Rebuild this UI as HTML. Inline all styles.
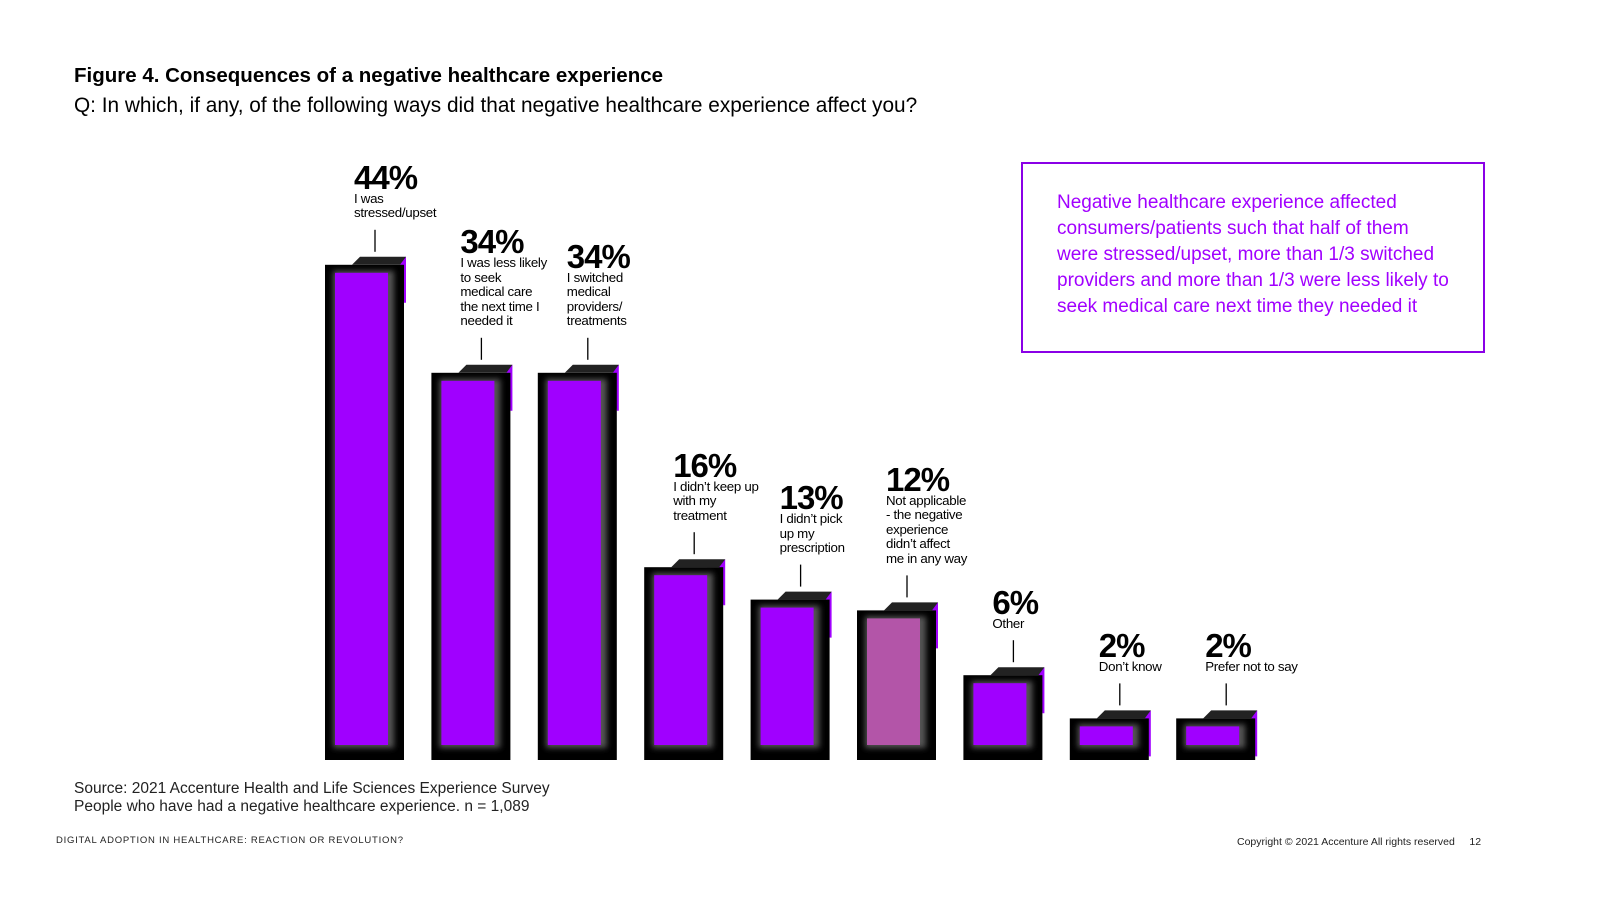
<!DOCTYPE html>
<html><head><meta charset="utf-8">
<style>
body{margin:0;width:1600px;height:900px;background:#fff;font-family:"Liberation Sans",sans-serif;position:relative;overflow:hidden;color:#000}
.abs{position:absolute}
#title{left:74px;top:64px;font-size:20.5px;font-weight:bold}
#sub{left:74px;top:94px;font-size:20.8px}
#box{left:1021px;top:162px;width:460px;height:187px;border:2px solid #8a00e6}
#box div{position:absolute;left:34px;top:26px;width:395px;font-size:19px;line-height:26px;color:#a100ff}
.lbl{position:absolute;font-size:13.3px;line-height:14.5px;letter-spacing:-0.3px}
.lbl b{display:block;font-size:33px;line-height:29px;letter-spacing:-1px}
#src{left:74px;top:780px;font-size:15.5px;line-height:18px;color:#222}
#foot1{left:56px;top:835px;font-size:9.5px;letter-spacing:0.75px;color:#222}
#foot2{left:1237px;top:836px;font-size:10.5px;color:#222}
</style></head><body>
<div id="title" class="abs">Figure 4. Consequences of a negative healthcare experience</div>
<div id="sub" class="abs">Q: In which, if any, of the following ways did that negative healthcare experience affect you?</div>
<div id="box" class="abs"><div>Negative healthcare experience affected consumers/patients such that half of them were stressed/upset, more than 1/3 switched providers and more than 1/3 were less likely to seek medical care next time they needed it</div></div>
<svg id="chart" class="abs" style="left:0;top:0" width="1600" height="900">
<defs><filter id="bl" x="-20%" y="-20%" width="140%" height="140%"><feGaussianBlur stdDeviation="3"/></filter></defs>
</svg>
<div id="labels"></div>
<div id="src" class="abs">Source: 2021 Accenture Health and Life Sciences Experience Survey<br>People who have had a negative healthcare experience. n = 1,089</div>
<div id="foot1" class="abs">DIGITAL ADOPTION IN HEALTHCARE: REACTION OR REVOLUTION?</div>
<div id="foot2" class="abs">Copyright © 2021 Accenture All rights reserved &nbsp;&nbsp;&nbsp;&nbsp;12</div>
<script>
const categories=["I was<br>stressed/upset","I was less likely<br>to seek<br>medical care<br>the next time I<br>needed it","I switched<br>medical<br>providers/<br>treatments","I didn’t keep up<br>with my<br>treatment","I didn’t pick<br>up my<br>prescription","Not applicable<br>- the negative<br>experience<br>didn’t affect<br>me in any way","Other","Don’t know","Prefer not to say"];
const values=[44,34,34,16,13,12,6,2,2];
const highlight=[0,0,0,0,0,1,0,0,0];
const baseY=760,x0=325,step=106.4,bw=79;
function yScale(v){return baseY-(20+10.8*v);}
function xScale(i){return x0+i*step;}
const svg=document.getElementById('chart'),NS="http://www.w3.org/2000/svg";
const labels=document.getElementById('labels');
values.forEach((v,i)=>{
 const x=xScale(i),top=yScale(v);
 const g=document.createElementNS(NS,'g');
 
 
 svg.appendChild(g);
 const add=(t,a)=>{const e=document.createElementNS(NS,t);for(const k in a)e.setAttribute(k,a[k]);g.appendChild(e);return e;};
 add('polygon',{points:`${x+27},${top} ${x+35},${top-8} ${x+81},${top-8} ${x+79},${top}`,fill:'#222'});
 add('polygon',{points:`${x+75},${top} ${x+81},${top-8} ${x+81},${top+38} ${x+79},${top+38}`,fill:'#a100ff'});
 add('rect',{x:x,y:top,width:bw,height:baseY-top,fill:'#000'});
 add('rect',{x:x+8,y:top+6,width:bw-18,height:baseY-top-18,fill:'#555',filter:'url(#bl)'});
 add('rect',{x:x+10,y:top+8,width:bw-26,height:baseY-top-23,fill:highlight[i]?'#b355a8':'#a000ff'});
 add('line',{x1:x+50,x2:x+50,y1:top-35,y2:top-13,stroke:'#000','stroke-width':1.3});
 const d=document.createElement('div');
 d.className='lbl';
 
 
 d.style.left=(x+29)+'px';
 d.style.bottom=(900-(top-44))+'px';
 d.innerHTML='<b>'+v+'%</b>'+categories[i];
 labels.appendChild(d);
});
</script>
</body></html>
